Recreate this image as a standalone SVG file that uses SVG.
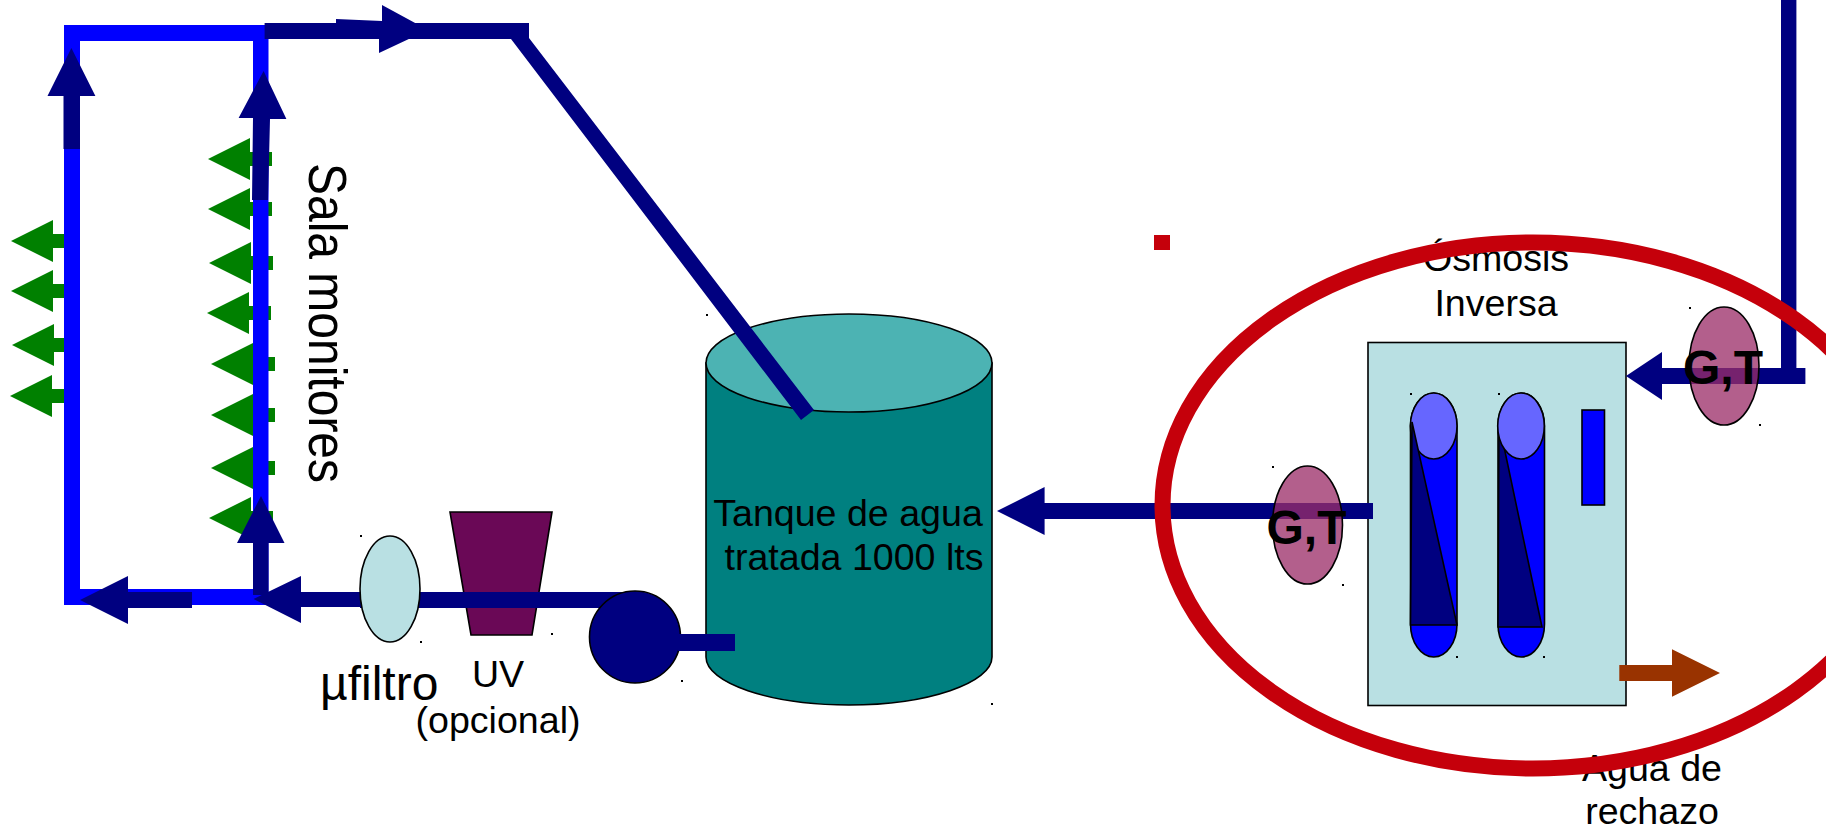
<svg xmlns="http://www.w3.org/2000/svg" width="1826" height="830" viewBox="0 0 1826 830">
<style>
text{font-family:"Liberation Sans",Arial,sans-serif;fill:#000}
.navy{fill:#000080}
.blue{fill:#00f}
.green{fill:#008000}
.ol{stroke:#000;stroke-width:1.6}
.gt{fill:#9b2d68;fill-opacity:.76;stroke:#000;stroke-width:1.6}
.dot{fill:#000}
.t37{font-size:37.6px}
.t48{font-size:48px}
.red{fill:none;stroke:#c5000b;stroke-width:16}
</style>
<defs>
<path id="ga" class="green" d="M0 0L42-21V-7H64V7H42V21Z"/>
</defs>
<g id="salida-verde">
<use href="#ga" x="208" y="159"/><use href="#ga" x="208" y="209"/><use href="#ga" x="209" y="263"/><use href="#ga" x="207" y="313"/>
<use href="#ga" x="211" y="364"/><use href="#ga" x="211" y="415"/><use href="#ga" x="211" y="468"/><use href="#ga" x="209" y="518"/>
<use href="#ga" x="11" y="241"/><use href="#ga" x="11" y="291"/><use href="#ga" x="12" y="345"/><use href="#ga" x="10" y="396"/>
</g>
<g id="tanque">
<path d="M706 363V657C706 683 770 705 849 705S992 683 992 657V363Z" fill="#008080" class="ol"/>
<ellipse cx="849" cy="363" rx="143" ry="49" fill="#4cb3b3" class="ol"/>
<text class="t37" x="848" y="526" text-anchor="middle">Tanque de agua</text>
<text class="t37" x="854" y="570" text-anchor="middle">tratada 1000 lts</text>
</g>
<g id="uv">
<path d="M450 512H552L532 635H471Z" fill="#6a0856" class="ol"/>
<text class="t37" x="498" y="687" text-anchor="middle">UV</text>
<text class="t37" x="498" y="733" text-anchor="middle">(opcional)</text>
</g>
<g id="osmosis">
<rect x="1368" y="342.5" width="258" height="363" fill="#b9e0e3" class="ol"/>
<g id="membrana-1">
<rect x="1410.5" y="393" width="46.5" height="264" rx="23.2" ry="33" class="blue ol"/>
<ellipse cx="1433.7" cy="426" rx="23.3" ry="33" fill="#66f" class="ol"/>
<path d="M1412 422L1457 625H1410.5Z" class="navy ol"/>
</g>
<g id="membrana-2">
<rect x="1498" y="393" width="46.5" height="264" rx="23.2" ry="33" class="blue ol"/>
<path d="M1499 423L1542 627H1498Z" class="navy ol"/>
<ellipse cx="1521" cy="426" rx="23.3" ry="33" fill="#66f" class="ol"/>
</g>
<rect x="1582" y="410" width="22.5" height="95" class="blue ol"/>
<text class="t37" x="1496" y="271" text-anchor="middle">Ósmosis</text>
<text class="t37" x="1496" y="316" text-anchor="middle">Inversa</text>
</g>
<g id="connectors">
<path class="blue" d="M64 25H268.5V605H64ZM80 41V589H253V41Z" fill-rule="evenodd"/>
<path class="navy" d="M264.6 23H529V38L814 410L801 420L511 39H264.6Z"/>
<path class="navy" d="M336 19L382 21V5L428 30L379 53V39H336Z"/>
<path class="navy" d="M63.5 149V96H47.5L71.4 48L95.4 96H80V149Z"/>
<path class="navy" d="M252 200L253 118H238.6L263.6 71L286.4 119H270L268 200Z"/>
<path class="navy" d="M253 595V543H237L261 496L284.5 543H268.5V595Z"/>
<path class="navy" d="M192 592H128V576L80 600L128 624V608H192Z"/>
<path class="navy" d="M361 592H301V576L253.5 599L301 623V607H361Z"/>
<path class="navy" d="M360 592H635V608H360Z"/>
<path class="navy" d="M1805.4 368H1796.4V0H1781V368H1662V352L1626 376L1662 400V384H1805.4Z"/>
<path class="navy" d="M1373 503H1044.6V487L997 511L1044.6 535V519H1373Z"/>
<path d="M1619.3 665H1672V649.3L1720 673L1672 696.7V681H1619.3Z" fill="#930"/>
</g>
<g id="bomba">
<ellipse cx="635" cy="637" rx="45.5" ry="46" class="navy ol"/>
<rect x="678" y="634" width="57" height="17" class="navy"/>
</g>
<g id="filtro">
<ellipse cx="390" cy="589" rx="30" ry="53" fill="#b9e0e3" class="ol"/>
<text class="t48" x="320" y="700">µfiltro</text>
</g>
<g id="gt-1">
<ellipse cx="1724" cy="366" rx="35" ry="59" class="gt"/>
<text class="t48" x="1723" y="384" text-anchor="middle" font-weight="bold">G,T</text>
</g>
<g id="gt-2">
<ellipse cx="1307.5" cy="525" rx="35" ry="59" class="gt"/>
<text class="t48" x="1306.5" y="544" text-anchor="middle" font-weight="bold">G,T</text>
</g>
<g id="rechazo">
<text class="t37" x="1652" y="781" text-anchor="middle">Agua de</text>
<text class="t37" x="1652" y="824" text-anchor="middle">rechazo</text>
</g>
<g id="limite">
<ellipse cx="1533" cy="505.5" rx="370.5" ry="263" class="red"/>
<rect x="1154" y="235" width="16" height="15" fill="#c5000b"/>
</g>
<text id="sala" class="t48" transform="translate(309 163) rotate(90) scale(1 1.1)">Sala monitores</text>
<g id="puntos" class="dot">
<rect x="360" y="535" width="2" height="2"/><rect x="420" y="641" width="2" height="2"/><rect x="551" y="633" width="2" height="2"/><rect x="681" y="680" width="2" height="2"/><rect x="706" y="314" width="2" height="2"/><rect x="991" y="703" width="2" height="2"/><rect x="1410" y="393" width="2" height="2"/><rect x="1498" y="393" width="2" height="2"/><rect x="1456" y="656" width="2" height="2"/><rect x="1543" y="656" width="2" height="2"/><rect x="1272" y="466" width="2" height="2"/><rect x="1342" y="584" width="2" height="2"/><rect x="1689" y="307" width="2" height="2"/><rect x="1759" y="424" width="2" height="2"/>
</g>
</svg>
